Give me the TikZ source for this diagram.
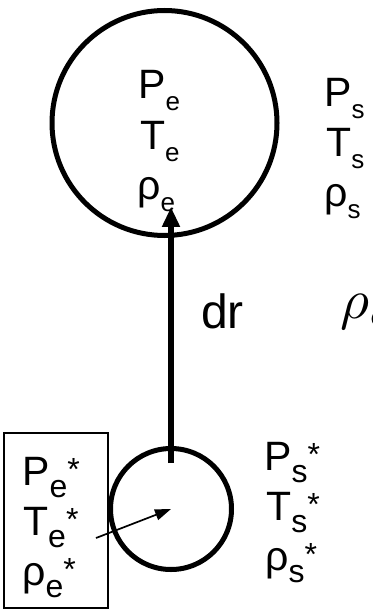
\documentclass[tikz,border=0pt]{standalone}
\usepackage{graphicx}
\usepackage{fontspec}
\setmainfont{Liberation Sans}
\usetikzlibrary{arrows.meta}
% lowered and raised parts of the labels
\newcommand{\lowa}[1]{\raisebox{-12pt}{\fontsize{26}{26}\selectfont #1}}
\newcommand{\lowb}[1]{\raisebox{-12pt}{\fontsize{32}{32}\selectfont #1}}
\newcommand{\starb}{\raisebox{5pt}{\fontsize{32}{32}\selectfont *}}
\tikzset{
  lbl/.style={anchor=base west, inner sep=0pt, font=\fontsize{41}{41}\selectfont},
  parcel/.style={circle, draw, line width=5pt, inner sep=0pt}
}
\begin{document}
\begin{tikzpicture}[x=1pt,y=-1pt]
\clip (0,0) rectangle (372,609);
\node[parcel, minimum size=225pt] (big) at (164.5,123) {};
\node[parcel, minimum size=121pt] (small) at (171,509) {};
\node[draw, line width=1.3pt, minimum width=104pt, minimum height=175pt, inner sep=0pt] (box) at (56,520.5) {};
% upper parcel
\node[lbl] (pe) at (138,99) {P\lowa{e}};
\node[lbl] (te) at (140,150) {T\lowa{e}};
\node[lbl] (re) at (137,200) {ρ\lowa{e}};
\node[lbl] (ps) at (324,107) {P\lowa{s}};
\node[lbl] (ts) at (326,157) {T\lowa{s}};
\node[lbl] (rs) at (324,207) {ρ\lowa{s}};
% lower parcel
\node[lbl] (pes) at (22,485) {P\lowb{e}\starb};
\node[lbl] (tes) at (23,535) {T\lowb{e}\starb};
\node[lbl] (res) at (22,585) {ρ\lowb{e}\starb};
\node[lbl] (pss) at (264,470) {P\lowb{s}\starb};
\node[lbl] (tss) at (266,520) {T\lowb{s}\starb};
\node[lbl] (rss) at (265,570) {ρ\lowb{s}\starb};
% displacement
\node[lbl, font=\fontsize{48}{48}\selectfont] (dr) at (201,328) {dr};
\node[anchor=base west, inner sep=0pt] (rhoe) at (340,318) {\scalebox{5.6}{$\rho_e$}};
\coordinate (foot) at (171,463);
\coordinate (tip) at (171,207);
\coordinate (from) at (96,538);
\draw[line width=6pt, -{Triangle[width=17pt,length=20pt]}] (foot) -- (tip);
\draw[line width=1.7pt, -{Triangle[width=11pt,length=16pt]}] (from) -- (small.center);
\end{tikzpicture}
\end{document}
